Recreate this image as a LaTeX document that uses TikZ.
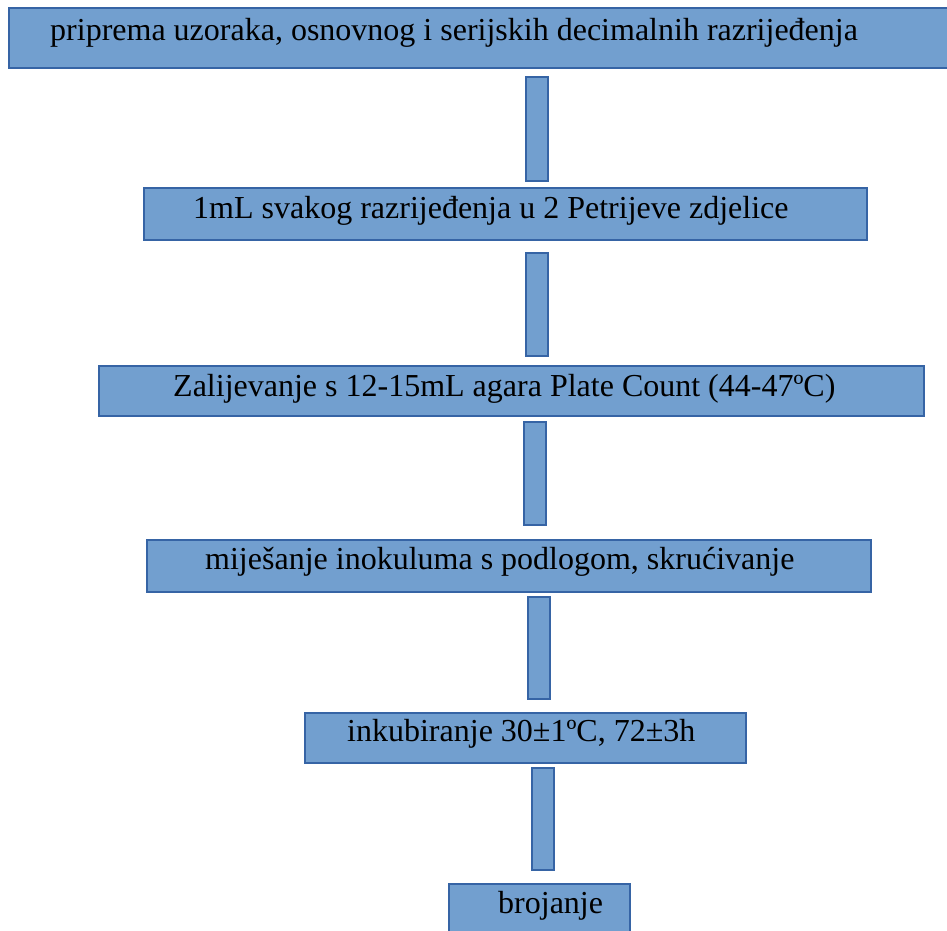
\documentclass[tikz,border=0pt]{standalone}
\usepackage{fontspec}
\setmainfont{Liberation Serif}
\definecolor{boxfill}{RGB}{114,159,207}
\definecolor{boxline}{RGB}{54,100,165}
\begin{document}
\begin{tikzpicture}[x=1pt,y=-1pt,
  blk/.style={draw=boxline,fill=boxfill,line width=2.4pt,rectangle,inner sep=0pt,anchor=north west},
  lbl/.style={anchor=base west,inner sep=0pt,font=\fontsize{32}{38}\selectfont,text=black}]
\useasboundingbox (0,0) rectangle (947,930);
\begin{scope}
\clip (0,0) rectangle (947,930);
\node[blk,minimum width=944pt,minimum height=60pt] (b1) at (8,7) {};
\node[blk,minimum width=22pt,minimum height=104pt] (c1) at (525,76) {};
\node[blk,minimum width=723pt,minimum height=52pt] (b2) at (143,187) {};
\node[blk,minimum width=22pt,minimum height=103pt] (c2) at (525,252) {};
\node[blk,minimum width=825pt,minimum height=50pt] (b3) at (98,365) {};
\node[blk,minimum width=22pt,minimum height=103pt] (c3) at (523,421) {};
\node[blk,minimum width=724pt,minimum height=52pt] (b4) at (146,539) {};
\node[blk,minimum width=22pt,minimum height=102pt] (c4) at (527,596) {};
\node[blk,minimum width=441pt,minimum height=50pt] (b5) at (304,712) {};
\node[blk,minimum width=22pt,minimum height=102pt] (c5) at (531,767) {};
\node[blk,minimum width=181pt,minimum height=60pt] (b6) at (448,883) {};
\end{scope}
\node[lbl] (t1) at (50,40) {priprema uzoraka, osnovnog i serijskih decimalnih razrijeđenja};
\node[lbl] (t2) at (193,218) {1mL svakog razrijeđenja u 2 Petrijeve zdjelice};
\node[lbl] (t3) at (173,396) {Zalijevanje s 12-15mL agara Plate Count (44-47ºC)};
\node[lbl] (t4) at (205,569) {miješanje inokuluma s podlogom, skrućivanje};
\node[lbl] (t5) at (347,741) {inkubiranje 30±1ºC, 72±3h};
\node[lbl] (t6) at (498,913) {brojanje};
\end{tikzpicture}
\end{document}
